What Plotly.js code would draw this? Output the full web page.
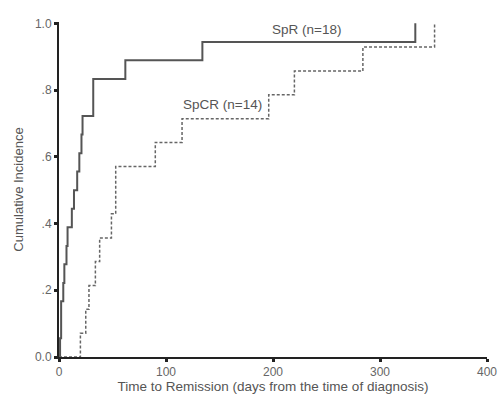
<!DOCTYPE html>
<html>
<head>
<meta charset="utf-8">
<script src="https://cdn.plot.ly/plotly-3.0.1.min.js"></script>
<style>html,body{margin:0;padding:0;background:#fff;}#chart{width:498px;height:399px;}</style>
</head>
<body>
<div id="chart"></div>
<script>
// SpR (n=18): step times (days) and cumulative incidence
var sprDays = [0, 1, 2, 4, 5, 7, 8, 12, 14, 17, 19, 21, 22, 32, 62, 134, 333];
var sprIncidence = [0, 0.056, 0.167, 0.222, 0.278, 0.333, 0.389, 0.444, 0.5, 0.556, 0.611, 0.667, 0.722, 0.833, 0.889, 0.944, 1.0];
// SpCR (n=14)
var spcrDays = [0, 20, 25, 28, 34, 38, 49, 53, 90, 115, 196, 220, 284, 351];
var spcrIncidence = [0, 0.071, 0.143, 0.214, 0.286, 0.357, 0.429, 0.571, 0.643, 0.714, 0.786, 0.857, 0.929, 1.0];

var xTickVals = [0, 100, 200, 300, 400];
var xTickText = ["0", "100", "200", "300", "400"];
var yTickVals = [0, 0.2, 0.4, 0.6, 0.8, 1.0];
var yTickText = ["0.0", ".2", ".4", ".6", ".8", "1.0"];

var seriesLabels = ["SpR (n=18)", "SpCR (n=14)"];

var traces = [
  {x: sprDays, y: sprIncidence, type: 'scatter', mode: 'lines', line: {shape: 'hv', color: '#555', width: 2}, name: seriesLabels[0], showlegend: false},
  {x: spcrDays, y: spcrIncidence, type: 'scatter', mode: 'lines', line: {shape: 'hv', color: '#666', width: 1.5, dash: '3px,2px'}, name: seriesLabels[1], showlegend: false}
];

var fam = 'Liberation Sans, Arial, sans-serif';

var layout = {
  width: 498, height: 399,
  margin: {l: 59, r: 11, t: 22, b: 42},
  paper_bgcolor: '#fff', plot_bgcolor: '#fff',
  font: {family: fam, size: 12, color: '#555'},
  showlegend: false,
  xaxis: {
    range: [0, 400], showgrid: false, zeroline: false,
    showline: true, linecolor: '#222', linewidth: 2,
    ticks: 'outside', ticklen: 3, tickwidth: 3, tickcolor: '#222',
    tickvals: xTickVals, ticktext: xTickText,
    tickfont: {family: fam, size: 12, color: '#666'},
    title: {text: 'Time to Remission (days from the time of diagnosis)', font: {family: fam, size: 13.5, color: '#555'}, standoff: 3}
  },
  yaxis: {
    range: [0, 1.004], showgrid: false, zeroline: false,
    showline: true, linecolor: '#222', linewidth: 2,
    ticks: 'outside', ticklen: 3, tickwidth: 3, tickcolor: '#222',
    tickvals: yTickVals, ticktext: yTickText,
    tickfont: {family: fam, size: 12, color: '#666'},
    title: {text: 'Cumulative Incidence', font: {family: fam, size: 13, color: '#555'}, standoff: 8}
  },
  annotations: [
    {x: 199, y: 0.982, xref: 'x', yref: 'y', text: seriesLabels[0], showarrow: false, xanchor: 'left', yanchor: 'middle', xshift: -2, font: {family: fam, size: 13.5, color: '#555'}},
    {x: 116, y: 0.758, xref: 'x', yref: 'y', text: seriesLabels[1], showarrow: false, xanchor: 'left', yanchor: 'middle', xshift: -2, font: {family: fam, size: 13.5, color: '#555'}}
  ]
};

Plotly.newPlot('chart', traces, layout, {staticPlot: true, displayModeBar: false});
</script>
</body>
</html>
